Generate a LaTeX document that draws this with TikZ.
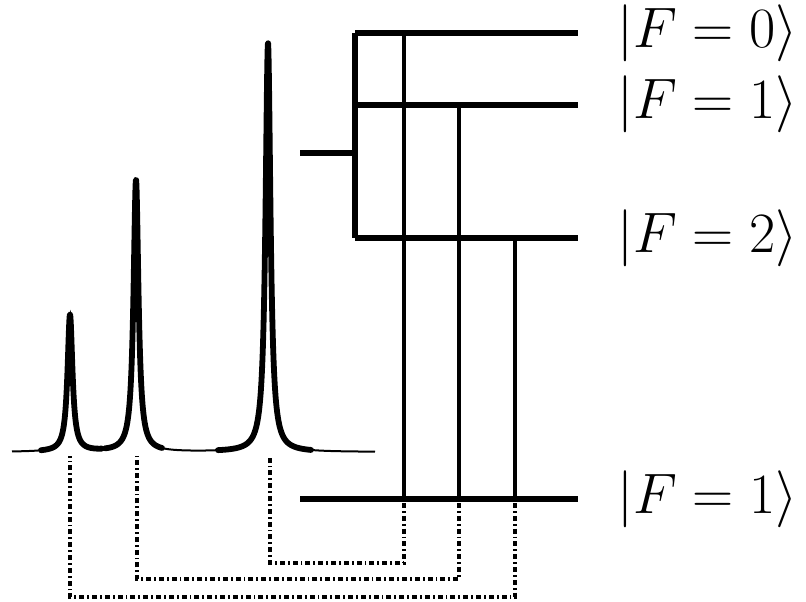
\RequirePackage{fix-cm}
\documentclass[tikz,border=0pt]{standalone}
\begin{document}
\begin{tikzpicture}[x=0.5pt, y=-0.5pt,
    declare function={lor(\t,\c,\h)=\h/(1+((\t-\c)/3)^2);
                      spec(\t)=452-lor(\t,70,137)-lor(\t,136,272)-lor(\t,268,409);},
    level/.style={line width=2.9pt},
    link/.style={line width=2.2pt},
    trace/.style={line width=1.7pt, dash pattern=on 2.5pt off 1.5pt on 0.9pt off 1.5pt},
    peak/.style={line width=2.9pt, line join=round, line cap=round},
    ket/.style={anchor=west, inner sep=0pt, font=\fontsize{28.5}{34}\selectfont}
]
    \useasboundingbox (0,0) rectangle (806,601);

    % Spectrum: thin line everywhere, thick around each peak
    \draw[line width=1pt] plot[domain=12:375, samples=700] (\x, {spec(\x)});
    \draw[peak] plot[domain=41:102, samples=250] (\x, {spec(\x)});
    \draw[peak] plot[domain=105:162, samples=250] (\x, {spec(\x)});
    \draw[peak] plot[domain=218:311, samples=350] (\x, {spec(\x)});
    \coordinate (p1) at (70,456);
    \coordinate (p2) at (137,456);
    \coordinate (p3) at (270,456);

    % Hyperfine levels
    \coordinate (u0) at (355,33);
    \coordinate (u1) at (355,105);
    \coordinate (u2) at (355,238);
    \coordinate (g1) at (300,499);
    \coordinate (end) at (578,0);
    \draw[level] (u0) -- (u0 -| end);
    \draw[level] (u1) -- (u1 -| end);
    \draw[level] (u2) -- (u2 -| end);
    \draw[level] (g1) -- (g1 -| end);
    \draw[level] (u0) -- (u2);
    \draw[level] (300,153) -- (355,153);

    % Labels
    \node[ket] (k0) at (617,33)  {$|F=0\rangle$};
    \node[ket] (k1) at (617,104) {$|F=1\rangle$};
    \node[ket] (k2) at (617,238) {$|F=2\rangle$};
    \node[ket] (kg) at (617,499) {$|F=1\rangle$};

    % Transitions
    \coordinate (a) at (404,0);
    \coordinate (b) at (459,0);
    \coordinate (c) at (515,0);
    \draw[link] (u0 -| a) -- (g1 -| a);
    \draw[link] (u1 -| b) -- (g1 -| b);
    \draw[link] (u2 -| c) -- (g1 -| c);

    % Back to the spectrum
    \draw[trace] (g1 -| a) ++(0,4) -- ++(0,60) -| (p3);
    \draw[trace] (g1 -| b) ++(0,4) -- ++(0,76) -| (p2);
    \draw[trace] (g1 -| c) ++(0,4) -- ++(0,94) -| (p1);
\end{tikzpicture}
\end{document}
